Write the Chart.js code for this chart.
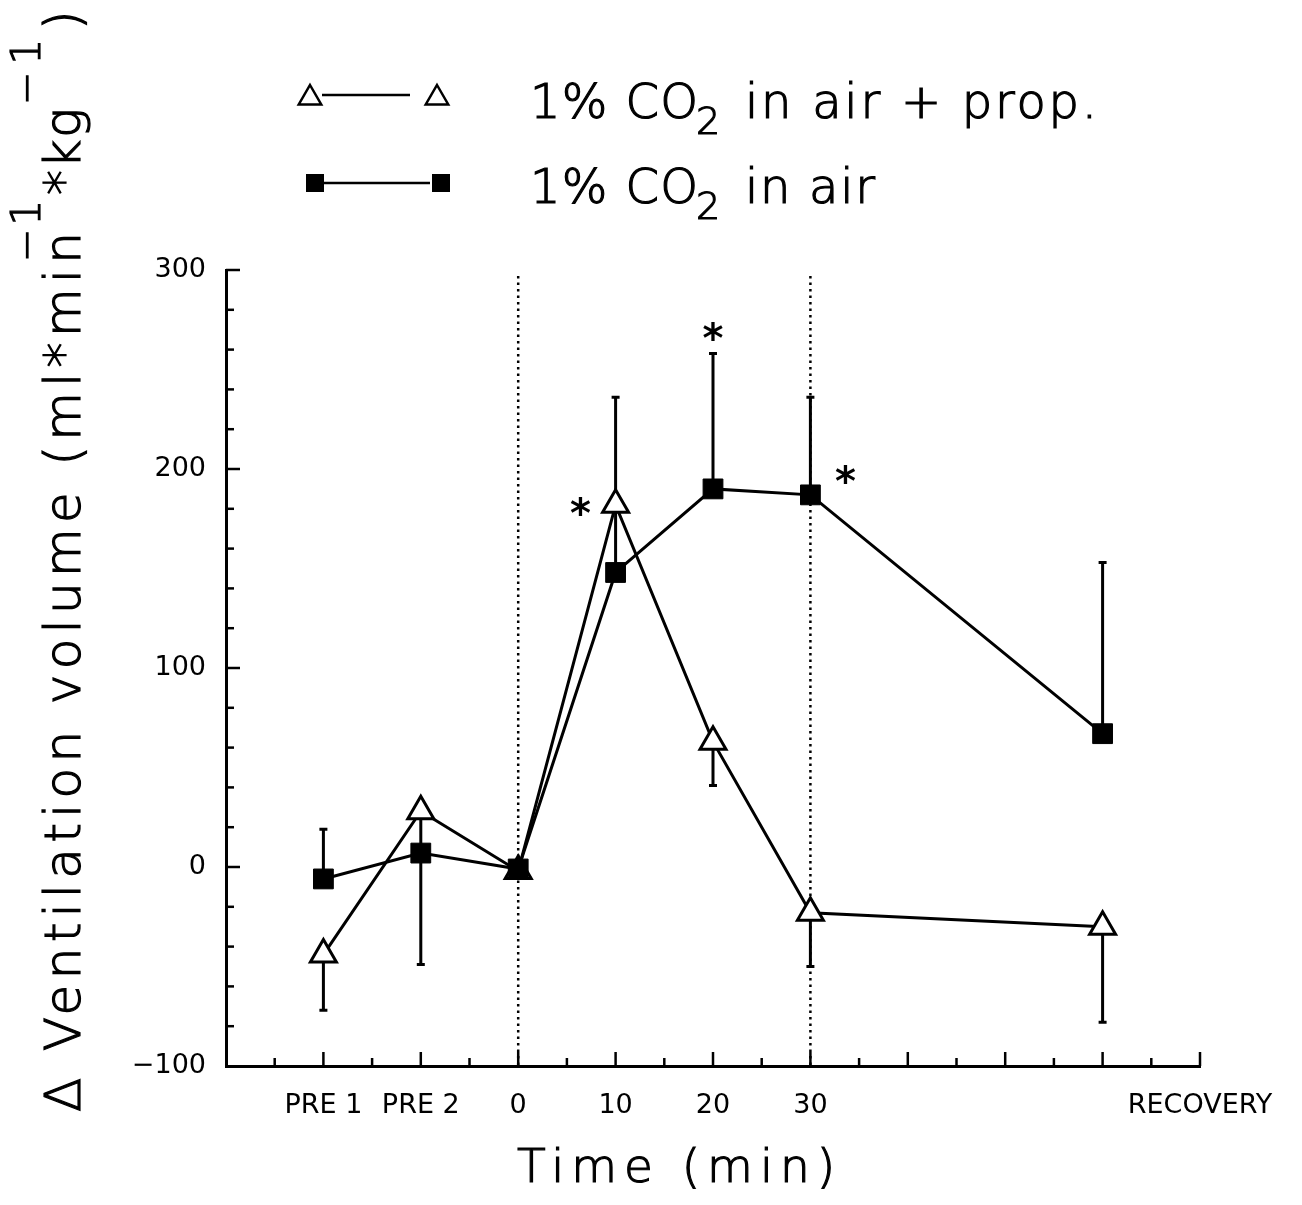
<!DOCTYPE html>
<html>
<head>
<meta charset="utf-8">
<script src="https://cdn.jsdelivr.net/npm/chart.js@4.4.1/dist/chart.umd.min.js"></script>
<style>
  html, body { margin: 0; padding: 0; background: #fff; }
  #wrap { width: 1302px; height: 1205px; position: relative; }
</style>
</head>
<body>
<div id="wrap"><canvas id="chart"></canvas></div>
<script>
// time axis (min); pre-values and recovery are placed on the same scale
const TIME_POINTS = [-20, -10, 0, 10, 20, 30, 60];
const X_TICK_VALUES = [-20, -10, 0, 10, 20, 30, 70];
const X_TICK_LABELS = ["PRE 1", "PRE 2", "0", "10", "20", "30", "RECOVERY"];

// 1% CO2 in air: mean and end of the one-sided SD bar
const AIR_MEAN = [-6, 7, -1, 148, 190, 187, 67];
const AIR_SD_END = [19, -49, -1, 182, 258, 236, 153];

// 1% CO2 in air + propranolol
const PROP_MEAN = [-44, 28, -2, 182, 63, -23, -30];
const PROP_SD_END = [-72, 8, -2, 236, 41, -50, -78];

// significance markers (time, value)
const SIG_X = [6.4, 20, 33.6];
const SIG_Y = [182, 270, 198];

// start and end of CO2 exposure
const PHASE_LINES = [0, 30];

const FONT = "'DejaVu Sans'";
const LIGHT = 300;

// light glyphs thickened a little with an outline, spread to a fixed width
function spaced(ctx, text, x, y, width) {
  ctx.letterSpacing = "0px";
  const natural = ctx.measureText(text).width;
  const gap = text.length > 1 ? (width - natural) / (text.length - 1) : 0;
  ctx.letterSpacing = gap + "px";
  ctx.fillText(text, x, y);
  ctx.strokeText(text, x, y);
  ctx.letterSpacing = "0px";
}

function toPoints(means) {
  return TIME_POINTS.map((t, i) => ({ x: t, y: means[i] }));
}

const phaseLines = {
  id: "phaseLines",
  beforeDatasetsDraw(chart) {
    const { ctx, scales: { x }, chartArea: a } = chart;
    ctx.save();
    ctx.strokeStyle = "#000";
    ctx.lineWidth = 2.5;
    ctx.setLineDash([2.5, 4]);
    PHASE_LINES.forEach((t) => {
      const px = x.getPixelForValue(t);
      ctx.beginPath();
      ctx.moveTo(px, a.top + 6);
      ctx.lineTo(px, a.bottom);
      ctx.stroke();
    });
    ctx.restore();
  },
};

const sdBars = {
  id: "sdBars",
  beforeDatasetsDraw(chart) {
    const { ctx, scales: { x, y } } = chart;
    ctx.save();
    ctx.strokeStyle = "#000";
    ctx.lineWidth = 3;
    [[AIR_MEAN, AIR_SD_END], [PROP_MEAN, PROP_SD_END]].forEach(([means, ends]) => {
      TIME_POINTS.forEach((t, i) => {
        if (ends[i] === means[i]) return;
        const px = x.getPixelForValue(t);
        const y0 = y.getPixelForValue(means[i]);
        const y1 = y.getPixelForValue(ends[i]);
        ctx.beginPath();
        ctx.moveTo(px, y0);
        ctx.lineTo(px, y1);
        ctx.moveTo(px - 4, y1);
        ctx.lineTo(px + 4, y1);
        ctx.stroke();
      });
    });
    ctx.restore();
  },
};

const decorations = {
  id: "decorations",
  afterDraw(chart) {
    const { ctx, scales: { x, y }, chartArea: a } = chart;
    ctx.save();
    ctx.strokeStyle = "#000";
    ctx.fillStyle = "#000";

    // inward tick marks
    ctx.lineWidth = 2.5;
    for (let v = -25; v <= 70; v += 5) {
      const px = x.getPixelForValue(v);
      const len = v % 10 === 0 ? 14 : 8;
      ctx.beginPath();
      ctx.moveTo(px, a.bottom);
      ctx.lineTo(px, a.bottom - len);
      ctx.stroke();
    }
    for (let v = -80; v <= 300; v += 20) {
      const py = y.getPixelForValue(v);
      const len = v % 100 === 0 ? 14 : 8;
      ctx.beginPath();
      ctx.moveTo(a.left, py);
      ctx.lineTo(a.left + len, py);
      ctx.stroke();
    }

    // significance asterisks
    ctx.font = `bold 40px ${FONT}`;
    ctx.textAlign = "center";
    ctx.textBaseline = "alphabetic";
    SIG_X.forEach((t, i) => {
      ctx.fillText("*", x.getPixelForValue(t), y.getPixelForValue(SIG_Y[i]) + 22);
    });

    ctx.textAlign = "left";
    ctx.lineWidth = 1.2;

    // x axis title
    ctx.font = `${LIGHT} 47px ${FONT}`;
    spaced(ctx, "Time (min)", 517, 1182, 318);

    // y axis title, read bottom to top
    ctx.save();
    ctx.translate(80, 1112);
    ctx.rotate(-Math.PI / 2);
    ctx.font = `${LIGHT} 50px ${FONT}`;
    spaced(ctx, "\u0394 Ventilation volume (ml*min", 0, 0, 880);
    ctx.font = `${LIGHT} 40px ${FONT}`;
    spaced(ctx, "\u22121", 850, -40, 62);
    ctx.font = `${LIGHT} 50px ${FONT}`;
    spaced(ctx, "*kg", 917, 0, 87);
    ctx.font = `${LIGHT} 40px ${FONT}`;
    spaced(ctx, "\u22121", 1007, -40, 66);
    ctx.font = `${LIGHT} 50px ${FONT}`;
    spaced(ctx, ")", 1082, 0, 0);
    ctx.restore();

    // legend
    ctx.lineWidth = 2.5;
    const tri = (cx, cy, r) => {
      ctx.beginPath();
      ctx.moveTo(cx, cy - r);
      ctx.lineTo(cx + r * 0.866, cy + r / 2);
      ctx.lineTo(cx - r * 0.866, cy + r / 2);
      ctx.closePath();
      ctx.fillStyle = "#fff";
      ctx.fill();
      ctx.stroke();
      ctx.fillStyle = "#000";
    };
    ctx.beginPath();
    ctx.moveTo(322, 95);
    ctx.lineTo(410, 95);
    ctx.stroke();
    tri(310, 98, 13);
    tri(437, 98, 13);

    ctx.beginPath();
    ctx.moveTo(322, 183);
    ctx.lineTo(430, 183);
    ctx.stroke();
    ctx.fillRect(306, 174, 18, 18);
    ctx.fillRect(432, 174, 18, 18);

    ctx.lineWidth = 1.2;
    ctx.font = `${LIGHT} 48px ${FONT}`;
    spaced(ctx, "1% CO", 530, 118, 168);
    spaced(ctx, "in air + prop.", 745, 118, 352);
    spaced(ctx, "1% CO", 530, 203, 168);
    spaced(ctx, "in air", 745, 203, 130);
    ctx.font = `${LIGHT} 38px ${FONT}`;
    spaced(ctx, "2", 696, 134, 0);
    spaced(ctx, "2", 696, 219, 0);
    ctx.restore();
  },
};

new Chart(document.getElementById("chart"), {
  type: "line",
  data: {
    datasets: [
      {
        label: "1% CO2 in air",
        data: toPoints(AIR_MEAN),
        borderColor: "#000",
        borderWidth: 3,
        backgroundColor: "#000",
        pointStyle: "rect",
        pointRadius: 14,
        pointBorderWidth: 1,
        tension: 0,
      },
      {
        label: "1% CO2 in air + prop.",
        data: toPoints(PROP_MEAN),
        borderColor: "#000",
        borderWidth: 3,
        backgroundColor: "#fff",
        pointStyle: "triangle",
        pointRadius: 15,
        pointBorderWidth: 3,
        tension: 0,
      },
    ],
  },
  options: {
    responsive: true,
    maintainAspectRatio: false,
    animation: false,
    layout: { padding: { left: 0, top: 270, right: 102, bottom: 0 } },
    plugins: { legend: { display: false }, tooltip: { enabled: false } },
    scales: {
      x: {
        type: "linear",
        min: -30,
        max: 70,
        afterFit: (scale) => { scale.height = 139; },
        afterBuildTicks: (scale) => { scale.ticks = X_TICK_VALUES.map((v) => ({ value: v })); },
        grid: { display: false, drawTicks: false },
        border: { display: true, color: "#000", width: 3 },
        ticks: {
          autoSkip: false,
          maxRotation: 0,
          minRotation: 0,
          padding: 24,
          color: "#000",
          font: { family: FONT, size: 27, weight: 400 },
          callback: (value) => X_TICK_LABELS[X_TICK_VALUES.indexOf(value)],
        },
      },
      y: {
        min: -100,
        max: 300,
        afterFit: (scale) => { scale.width = 226; },
        grid: { display: false, drawTicks: false },
        border: { display: true, color: "#000", width: 3 },
        ticks: {
          stepSize: 100,
          padding: 20,
          color: "#000",
          font: { family: FONT, size: 27, weight: 400 },
          callback: (value) => (value < 0 ? "\u2212" + Math.abs(value) : String(value)),
        },
      },
    },
  },
  plugins: [phaseLines, sdBars, decorations],
});
</script>
</body>
</html>
